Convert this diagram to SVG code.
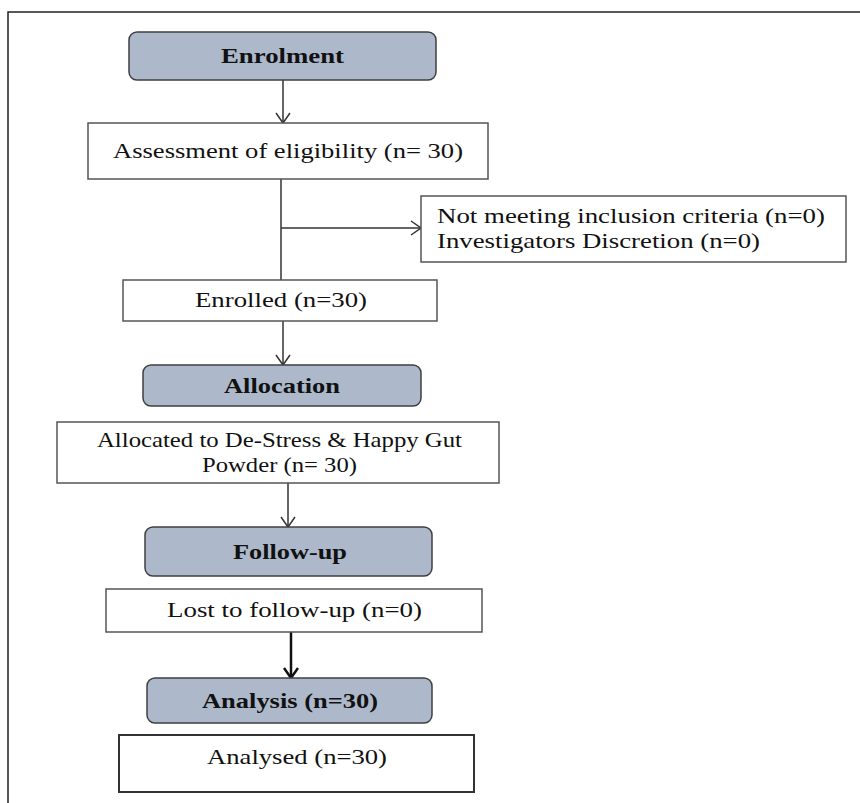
<svg xmlns="http://www.w3.org/2000/svg" width="860" height="803" viewBox="0 0 860 803">
<style>
.phase{fill:#adb9cb;stroke:#3f3f3f;stroke-width:1.5}
.box{fill:#ffffff;stroke:#555555;stroke-width:1.5}
.t{font-family:"Liberation Serif","Times New Roman",Times,serif;font-size:21px;fill:#111}
.b{font-family:"Liberation Serif","Times New Roman",Times,serif;font-size:21px;font-weight:bold;fill:#111}
.c{fill:none;stroke:#333;stroke-width:1.5}
.c2{fill:none;stroke:#111;stroke-width:2.5}
</style>
<defs>
<marker id="ah" viewBox="0 0 12 16" refX="11" refY="8" markerWidth="12" markerHeight="16" markerUnits="userSpaceOnUse" orient="auto">
<path d="M1,1 L11,8 L1,15" fill="none" stroke="#333" stroke-width="1.5"/>
</marker>
<marker id="ah2" viewBox="0 0 12 16" refX="11" refY="8" markerWidth="12" markerHeight="16" markerUnits="userSpaceOnUse" orient="auto">
<path d="M1,1 L11,8 L1,15" fill="none" stroke="#111" stroke-width="2.5"/>
</marker>
</defs>
<rect x="0" y="0" width="860" height="803" fill="#ffffff"/>
<g id="frame">
<path d="M8,803 L8,12 L860,12" fill="none" stroke="#222" stroke-width="1.5"/>
</g>
<g id="connectors">
<line class="c" x1="283" y1="80" x2="283" y2="123" marker-end="url(#ah)"/>
<line class="c" x1="281" y1="179" x2="281" y2="280"/>
<line class="c" x1="281" y1="228" x2="421" y2="228" marker-end="url(#ah)"/>
<line class="c" x1="283" y1="321" x2="283" y2="365" marker-end="url(#ah)"/>
<line class="c" x1="288" y1="483" x2="288" y2="527" marker-end="url(#ah)"/>
<line class="c2" x1="291" y1="632" x2="291" y2="678" marker-end="url(#ah2)"/>
</g>
<g id="enrolment">
<rect class="phase" x="129" y="32" width="307" height="48" rx="8"/>
<text class="b" x="221" y="63" textLength="123" lengthAdjust="spacingAndGlyphs">Enrolment</text>
</g>
<g id="assessment">
<rect class="box" x="88" y="123" width="400" height="56"/>
<text class="t" x="113" y="158" textLength="350" lengthAdjust="spacingAndGlyphs">Assessment of eligibility (n= 30)</text>
</g>
<g id="excluded">
<rect class="box" x="421" y="196" width="425" height="66"/>
<text class="t" x="437" y="223" textLength="388" lengthAdjust="spacingAndGlyphs">Not meeting inclusion criteria (n=0)</text>
<text class="t" x="437" y="248" textLength="323" lengthAdjust="spacingAndGlyphs">Investigators Discretion (n=0)</text>
</g>
<g id="enrolled">
<rect class="box" x="123" y="280" width="314" height="41"/>
<text class="t" x="195" y="307" textLength="172" lengthAdjust="spacingAndGlyphs">Enrolled (n=30)</text>
</g>
<g id="allocation">
<rect class="phase" x="143" y="365" width="278" height="41" rx="8"/>
<text class="b" x="224" y="393" textLength="116" lengthAdjust="spacingAndGlyphs">Allocation</text>
</g>
<g id="allocated">
<rect class="box" x="57" y="422" width="442" height="61"/>
<text class="t" x="97" y="447" textLength="365" lengthAdjust="spacingAndGlyphs">Allocated to De-Stress &amp; Happy Gut</text>
<text class="t" x="202" y="472" textLength="155" lengthAdjust="spacingAndGlyphs">Powder (n= 30)</text>
</g>
<g id="followup">
<rect class="phase" x="145" y="527" width="287" height="49" rx="8"/>
<text class="b" x="233" y="559" textLength="114" lengthAdjust="spacingAndGlyphs">Follow-up</text>
</g>
<g id="lost">
<rect class="box" x="106" y="589" width="376" height="43"/>
<text class="t" x="167" y="617" textLength="255" lengthAdjust="spacingAndGlyphs">Lost to follow-up (n=0)</text>
</g>
<g id="analysis">
<rect class="phase" x="147" y="678" width="285" height="45" rx="8"/>
<text class="b" x="202" y="708" textLength="176" lengthAdjust="spacingAndGlyphs">Analysis (n=30)</text>
</g>
<g id="analysed">
<rect class="box" x="119" y="735" width="355" height="57" style="stroke:#333;stroke-width:2"/>
<text class="t" x="207" y="764" textLength="180" lengthAdjust="spacingAndGlyphs">Analysed (n=30)</text>
</g>
</svg>
